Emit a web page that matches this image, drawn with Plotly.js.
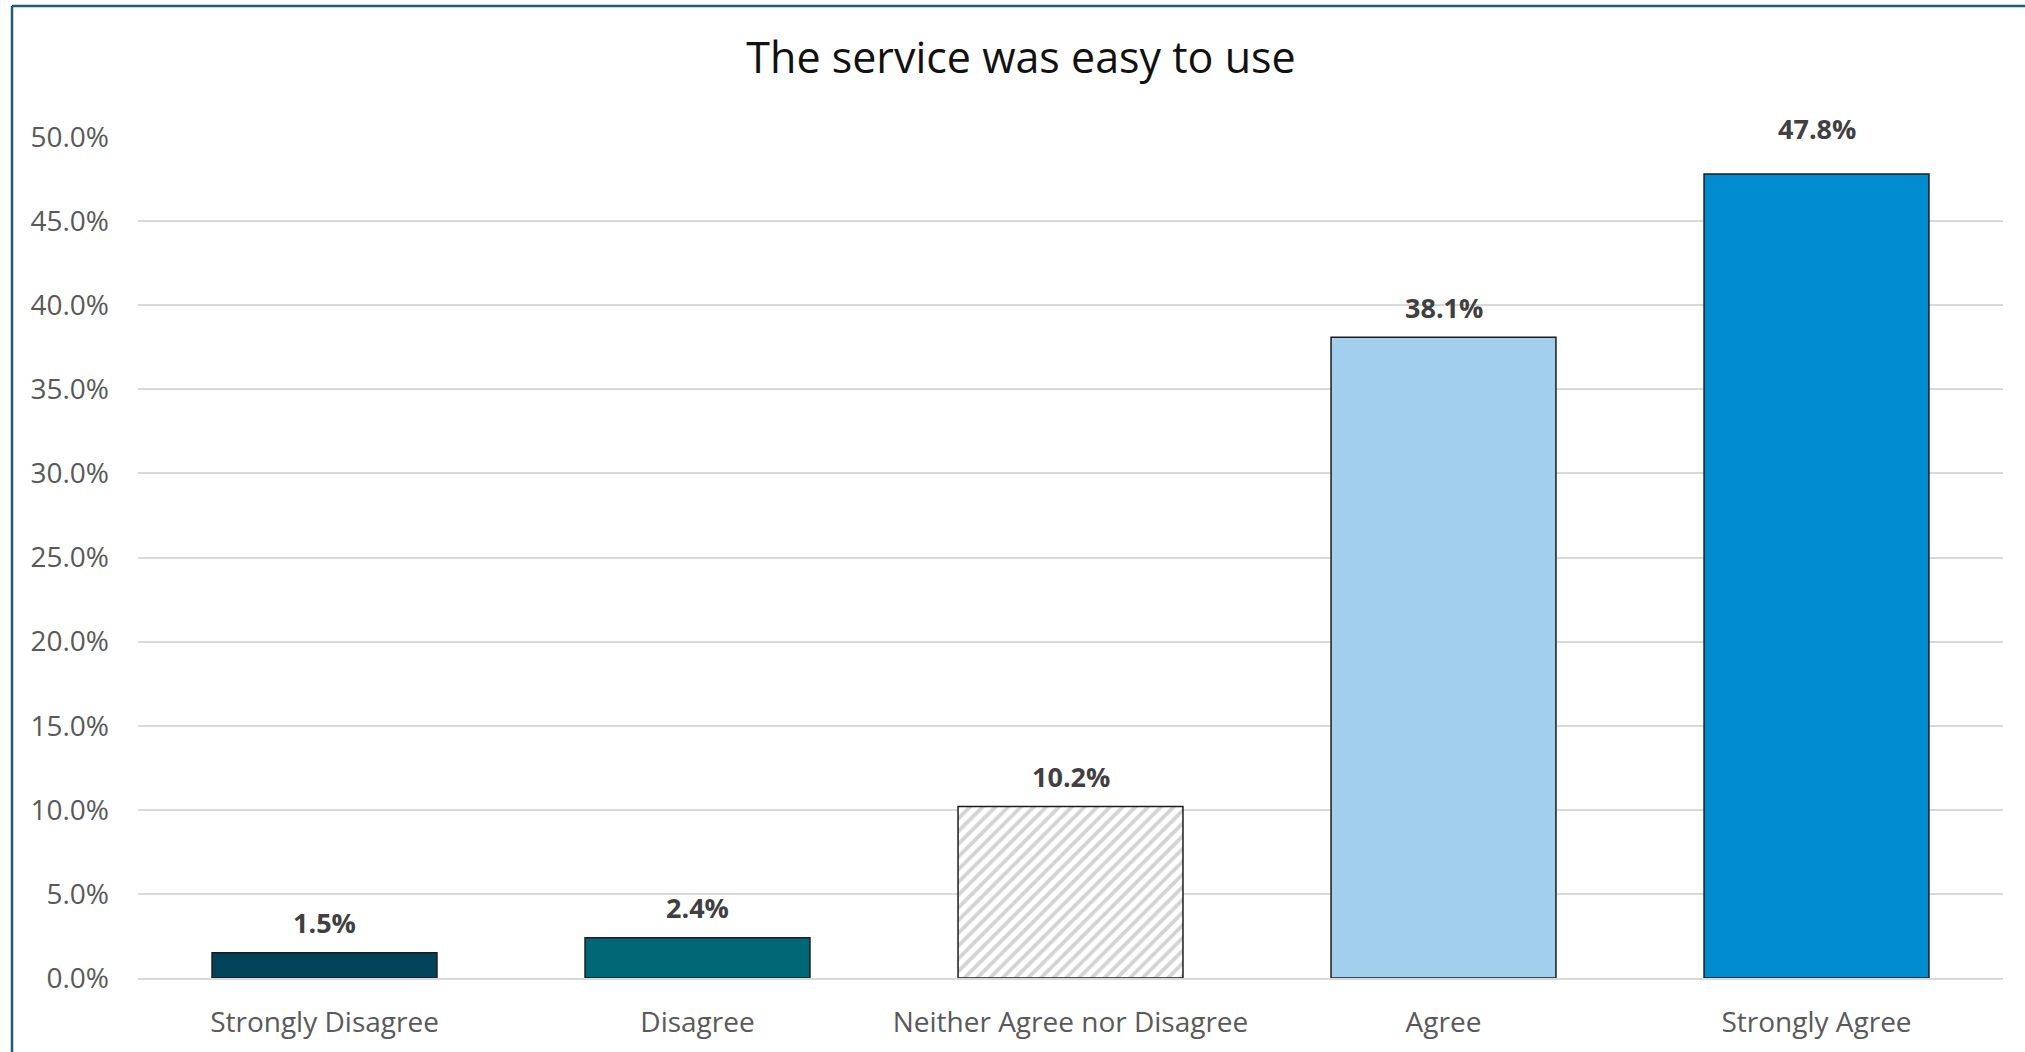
<!DOCTYPE html>
<html>
<head>
<meta charset="utf-8">
<script src="https://cdn.plot.ly/plotly-3.0.1.min.js"></script>
<style>
  html, body { margin: 0; padding: 0; background: #ffffff; }
  #chart { width: 2025px; height: 1052px; }
</style>
</head>
<body>
<div id="chart"></div>
<script>
// ---- data ----
const categories = ["Strongly Disagree", "Disagree", "Neither Agree nor Disagree", "Agree", "Strongly Agree"];
const shares = [0.015, 0.024, 0.102, 0.381, 0.478];
const yTickValues = [0, 0.05, 0.10, 0.15, 0.20, 0.25, 0.30, 0.35, 0.40, 0.45, 0.50];
const chartTitle = "The service was easy to use";

// ---- styles ----
const barColors = ["#02435a", "#006777", "#d3d3d3", "#a2cfeb", "#008ccf"];
const barPatterns = ["", "", "/", "", ""];
const labelExtraShift = [0, 0, 0, 0, 16];
const FONT = "Open Sans, Noto Sans, sans-serif";

// white backing bars so the gridlines do not show through the hatched bar
const backing = {
  type: "bar",
  x: categories,
  y: shares,
  marker: { color: "#ffffff", line: { width: 0 } },
  hoverinfo: "skip",
  showlegend: false
};

const trace = {
  type: "bar",
  x: categories,
  y: shares,
  marker: {
    color: barColors,
    line: { color: "#1c1c1c", width: 1.5 },
    pattern: { shape: barPatterns, size: 9, solidity: 0.42 }
  },
  hoverinfo: "x+y",
  showlegend: false
};

const annotations = categories.map((c, i) => ({
  x: c,
  y: shares[i],
  xref: "x",
  yref: "y",
  text: (shares[i] * 100).toFixed(1) + "%",
  showarrow: false,
  yanchor: "middle",
  yshift: 30 + labelExtraShift[i],
  font: { family: FONT, size: 27, color: "#404040", weight: "bold" }
}));

// frame (top and left edge of chart border)
const px2x = p => (p - 138) / 1865;
const py2y = p => (978 - p) / 841;
const shapes = [
  { type: "line", xref: "paper", yref: "paper", x0: px2x(12), x1: px2x(2100), y0: py2y(6), y1: py2y(6),
    line: { color: "#1f5d75", width: 2.5 } },
  { type: "line", xref: "paper", yref: "paper", x0: px2x(12), x1: px2x(12), y0: py2y(6), y1: py2y(1100),
    line: { color: "#1f5d75", width: 2.5 } }
];

const layout = {
  width: 2025,
  height: 1052,
  paper_bgcolor: "#ffffff",
  plot_bgcolor: "#ffffff",
  margin: { l: 138, r: 22, t: 137, b: 74 },
  barmode: "overlay",
  bargap: 0.397,
  title: {
    text: chartTitle,
    x: 1021 / 2025, xref: "container", xanchor: "center",
    y: 1 - 58 / 1052, yref: "container", yanchor: "middle",
    font: { family: FONT, size: 43, color: "#111111" }
  },
  xaxis: {
    type: "category",
    showgrid: false,
    showline: true,
    linecolor: "#d9d9d9",
    linewidth: 2,
    ticks: "",
    ticklabelstandoff: 18,
    tickfont: { family: FONT, size: 28, color: "#595959" },
    fixedrange: true
  },
  yaxis: {
    range: [0, 0.5],
    tickvals: yTickValues,
    tickformat: ".1%",
    showgrid: true,
    gridcolor: "#d9d9d9",
    gridwidth: 2,
    zeroline: false,
    showline: false,
    ticks: "",
    ticklabelstandoff: 28,
    tickfont: { family: FONT, size: 28, color: "#595959" },
    fixedrange: true
  },
  annotations: annotations,
  shapes: shapes,
  font: { family: FONT }
};

Plotly.newPlot("chart", [backing, trace], layout, { displayModeBar: false, staticPlot: true });
</script>
</body>
</html>
